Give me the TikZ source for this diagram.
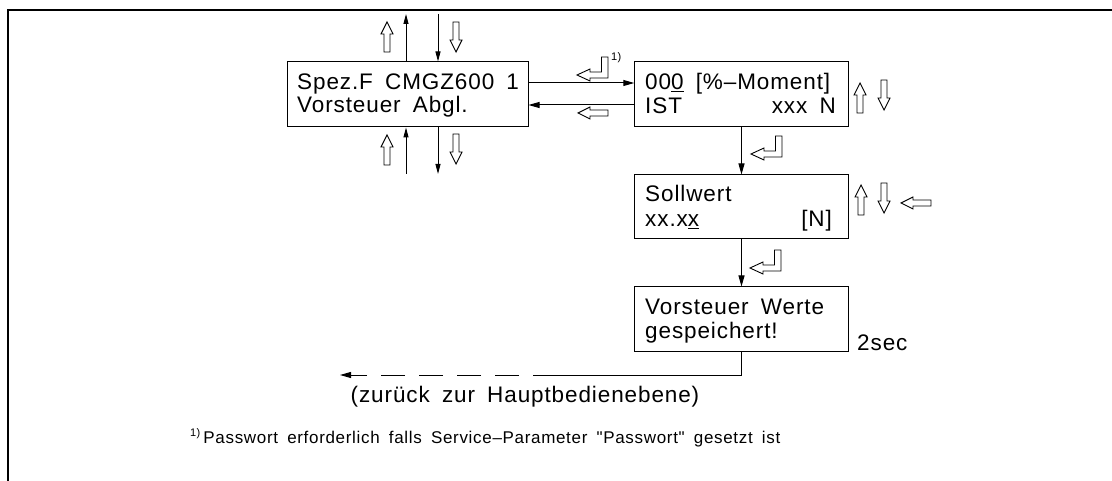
\documentclass[tikz,border=0pt]{standalone}
\usepackage{fontspec}
\setmainfont{Liberation Sans}[LetterSpace=4, WordSpace=1.7, Ligatures=TeXOff]
\usetikzlibrary{arrows.meta,calc}
\tikzset{
  box/.style={draw, line width=1pt, inner sep=0pt, minimum height=65pt},
  txt/.style={font=\fontsize{22.5}{26}\selectfont, inner sep=0pt, anchor=base west},
  rtxt/.style={txt, anchor=base east},
  conn/.style={line width=1pt},
  tipv/.style={-{Triangle[length=10pt,width=5pt]}},
  tiph/.style={-{Triangle[length=11pt,width=6pt]}},
  hol/.style={draw, line width=0.9pt, fill=white, line join=miter},
  hup/.pic={\draw[hol] (0,0) -- (6,12) -- (3,12) -- (3,30) -- (-3,30) -- (-3,12) -- (-6,12) -- cycle;},
  enterkey/.pic={\draw[hol] (0,-21) -- (0,0) -- (-18,0) -- (-18,3) -- (-31,-3) -- (-18,-9) -- (-18,-6) -- (-6.5,-6) -- (-6.5,-21) -- cycle;}
}
\begin{document}
\begin{tikzpicture}[x=1pt,y=-1pt]
\useasboundingbox (0,0) rectangle (1112,481);
% frame
\draw[line width=2pt] (7.5,481) -- (7.5,10) -- (1112,10);

% boxes
\node[box, minimum width=241pt] (b1) at (407.5,94.5) {};
\node[box, minimum width=213.5pt] (b2) at (741.5,94.5) {};
\node[box, minimum width=213.5pt, minimum height=64pt] (b3) at (741.5,207) {};
\node[box, minimum width=213.5pt, minimum height=64pt] (b4) at (741.5,319) {};

% texts
\node[txt] (t1a) at (297,90) {Spez.F CMGZ600 1};
\node[txt] (t1b) at (297,113) {Vorsteuer Abgl.};
\node[txt] (t2a) at (645,90) {00\underline{0} [\%–Moment]};
\node[txt] (t2b) at (645,114) {IST};
\node[rtxt] (t2c) at (836,114) {xxx N};
\node[txt] (t3a) at (645,202) {Sollwert};
\node[txt] (t3b) at (645,227) {xx.x\underline{x}};
\node[rtxt] (t3c) at (832,227) {[N]};
\node[txt] (t4a) at (645,315) {Vorsteuer Werte};
\node[txt] (t4b) at (645,338) {gespeichert!};
\node[txt] (sec) at (857,350) {2sec};
\node[txt, anchor=base] (back) at (525,402) {(zurück zur Hauptbedienebene)};
\node[inner sep=0pt, anchor=base west, font=\fontsize{17}{20}\selectfont] (fn) at (190,443)
  {\raisebox{7pt}{\fontsize{11}{12}\selectfont 1)}\hspace{3pt}Passwort erforderlich falls Service–Parameter "Passwort" gesetzt ist};
\node[inner sep=0pt, anchor=base west, font=\fontsize{11}{12}\selectfont] (sup) at (611,61) {1)};

% free ends
\coordinate (t1) at (406,14);
\coordinate (t2) at (438,14);
\coordinate (u1) at (406,174);
\coordinate (u2) at (438,174);
\coordinate (ret) at (533,375);
\coordinate (home) at (340,375);

% connectors
\draw[conn,tipv] (b1.north -| t1) -- (t1);
\draw[conn,tipv] (t2) -- (b1.north -| t2);
\draw[conn,tipv] (u1) -- (b1.south -| u1);
\draw[conn,tipv] (b1.south -| u2) -- (u2);
\draw[conn,tiph] ([yshift=11.5pt]b1.east) -- ([yshift=11.5pt]b2.west);
\draw[conn,tiph] ([yshift=-10.5pt]b2.west) -- ([yshift=-10.5pt]b1.east);
\draw[conn,tiph] (b2.south) -- (b3.north);
\draw[conn,tiph] (b3.south) -- (b4.north);
\draw[conn] (b4.south) -- (b4.south |- ret) -- (ret);
\draw[conn,tiph,dash pattern=on 24pt off 14pt,dash phase=24pt] (ret) -- (home);

% hollow arrows
\pic at (387,22) {hup};
\pic[rotate=180] at (456,52) {hup};
\pic at (387,135) {hup};
\pic[rotate=180] at (456,164) {hup};
\pic at (860,83) {hup};
\pic[rotate=180] at (884,110) {hup};
\pic at (861,185) {hup};
\pic[rotate=180] at (884,213) {hup};
\pic[rotate=90] at (901,203) {hup};
\pic[rotate=90] at (578,113) {hup};
% enter keys
\pic at (608,78) {enterkey};
\pic at (782,157) {enterkey};
\pic at (781,271) {enterkey};
\end{tikzpicture}
\end{document}
